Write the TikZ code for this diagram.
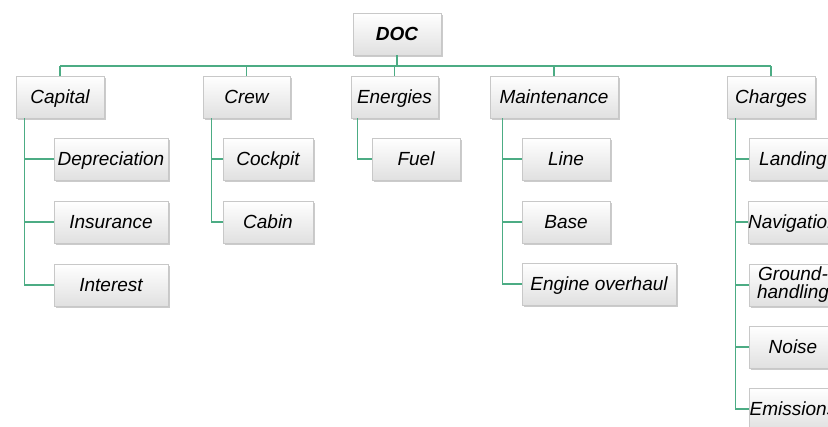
\documentclass[tikz,border=0pt]{standalone}
\usepackage{fontspec}
\setmainfont{Liberation Sans}
\usetikzlibrary{shadows}
\definecolor{linegreen}{RGB}{76,172,132}
\definecolor{boxline}{RGB}{200,200,200}
\tikzset{
  box/.style={draw=boxline, line width=0.6pt, top color=white, bottom color=black!12,
    minimum height=42pt, inner sep=0pt, text height=14pt, text depth=1.5pt,
    font=\fontsize{19}{18}\selectfont\itshape, align=center,
    drop shadow={shadow xshift=1.5pt, shadow yshift=-2pt, opacity=0.45, fill=black!45}},
  twoline/.style={text height=, text depth=},
  conn/.style={draw=linegreen, line width=1.4pt}
}
\begin{document}
\begin{tikzpicture}[x=1pt,y=-1pt]
\useasboundingbox (0,0) rectangle (828,427);
\fill[white] (0,0) rectangle (828,427);
\clip (0,0) rectangle (828,427);
% top level
\node[box, minimum width=88pt, font=\fontsize{19}{18}\selectfont\bfseries\itshape] (doc) at (397,34) {DOC};
\node[box, minimum width=88pt] (capital) at (60,97) {Capital};
\node[box, minimum width=87pt] (crew) at (246.5,97) {Crew};
\node[box, minimum width=87pt] (energies) at (394.5,97) {Energies};
\node[box, minimum width=128pt] (maint) at (554,97) {Maintenance};
\node[box, minimum width=88pt] (charges) at (771,97) {Charges};
% children
\node[box, minimum width=114pt] (depr) at (111,159) {Depreciation};
\node[box, minimum width=114pt] (insur) at (111,222) {Insurance};
\node[box, minimum width=114pt] (inter) at (111,285) {Interest};
\node[box, minimum width=90pt] (cockpit) at (268,159) {Cockpit};
\node[box, minimum width=90pt] (cabin) at (268,222) {Cabin};
\node[box, minimum width=88pt] (fuel) at (416,159) {Fuel};
\node[box, minimum width=88pt] (line) at (566,159) {Line};
\node[box, minimum width=88pt] (base) at (566,222) {Base};
\node[box, minimum width=154pt] (engine) at (599,284) {Engine overhaul};
\node[box, minimum width=88pt] (landing) at (793,159) {Landing};
\node[box, minimum width=88pt] (navig) at (793,222) {Navigation};
\node[box, twoline, minimum width=88pt] (ground) at (793,285) {Ground-\\handling};
\node[box, minimum width=88pt] (noise) at (793,347) {Noise};
\node[box, minimum width=88pt] (emis) at (793,409) {Emissions};
% bus
\coordinate (busL) at (60,66);
\coordinate (busR) at (771,66);
\draw[conn] (busL) -- (busR);
\draw[conn] (doc) -- (doc |- busL);
\foreach \n in {capital,crew,energies,maint,charges}
  \draw[conn] (\n) -- (\n |- busL);
% trunks
\foreach \c in {depr,insur,inter}
  \draw[conn] ([xshift=9pt]capital.south west) |- (\c.west);
\foreach \c in {cockpit,cabin}
  \draw[conn] ([xshift=9pt]crew.south west) |- (\c.west);
\draw[conn] ([xshift=7pt]energies.south west) |- (fuel.west);
\foreach \c in {line,base,engine}
  \draw[conn] ([xshift=13pt]maint.south west) |- (\c.west);
\foreach \c in {landing,navig,ground,noise,emis}
  \draw[conn] ([xshift=9pt]charges.south west) |- (\c.west);
\end{tikzpicture}
\end{document}
